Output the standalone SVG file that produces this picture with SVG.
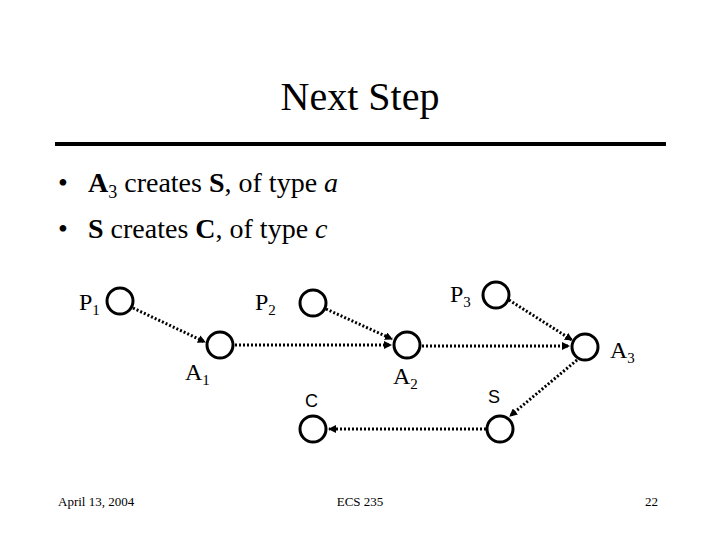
<svg xmlns="http://www.w3.org/2000/svg" width="720" height="540" viewBox="0 0 720 540">
<style>
.n{fill:none;stroke:#000;stroke-width:3}
.c{stroke:#000;stroke-width:3;stroke-dasharray:2 2;fill:none;marker-end:url(#a)}
.t{font-family:"Liberation Serif",serif;fill:#000}
.s{font-family:"Liberation Sans",sans-serif;fill:#000}
</style>
<defs><marker id="a" markerWidth="8" markerHeight="8" refX="7" refY="4" orient="auto" markerUnits="userSpaceOnUse"><path d="M0,0L8,4L0,8z"/></marker></defs>
<rect width="720" height="540" fill="#fff"/>
<text class="t" x="360" y="110" font-size="40" text-anchor="middle">Next Step</text>
<line x1="55" y1="144" x2="666" y2="144" stroke="#000" stroke-width="4"/>
<text class="t" x="58" y="192" font-size="28">•</text>
<text class="t" x="88" y="192" font-size="28"><tspan font-weight="bold">A</tspan><tspan font-size="18" dy="6">3</tspan><tspan dy="-6"> creates </tspan><tspan font-weight="bold">S</tspan>, of type <tspan font-style="italic">a</tspan></text>
<text class="t" x="58" y="238" font-size="28">•</text>
<text class="t" x="88" y="238" font-size="28"><tspan font-weight="bold">S</tspan> creates <tspan font-weight="bold">C</tspan>, of type <tspan font-style="italic">c</tspan></text>
<g id="connectors">
<line class="c" x1="133" y1="308" x2="205" y2="342"/>
<line class="c" x1="235" y1="345" x2="391" y2="345"/>
<line class="c" x1="326" y1="309" x2="392" y2="339"/>
<line class="c" x1="422" y1="346" x2="569" y2="346"/>
<line class="c" x1="509" y1="300" x2="572" y2="340"/>
<line class="c" x1="577" y1="360" x2="510" y2="416"/>
<line class="c" x1="486" y1="429" x2="329" y2="429"/>
</g>
<g id="P1"><circle class="n" cx="120" cy="301" r="13"/><text class="t" x="79" y="310" font-size="24">P<tspan font-size="15" dy="5">1</tspan></text></g>
<g id="A1"><circle class="n" cx="220" cy="345" r="13"/><text class="t" x="185" y="380" font-size="24">A<tspan font-size="15" dy="5">1</tspan></text></g>
<g id="P2"><circle class="n" cx="313" cy="303" r="13"/><text class="t" x="255" y="310" font-size="24">P<tspan font-size="15" dy="5">2</tspan></text></g>
<g id="A2"><circle class="n" cx="407" cy="345" r="13"/><text class="t" x="393" y="384" font-size="24">A<tspan font-size="15" dy="5">2</tspan></text></g>
<g id="P3"><circle class="n" cx="496" cy="295" r="13"/><text class="t" x="450" y="302" font-size="24">P<tspan font-size="15" dy="5">3</tspan></text></g>
<g id="A3"><circle class="n" cx="585" cy="347" r="13"/><text class="t" x="610" y="358" font-size="24">A<tspan font-size="15" dy="5">3</tspan></text></g>
<g id="S"><circle class="n" cx="500" cy="429" r="13"/><text class="s" x="488" y="403" font-size="18">S</text></g>
<g id="C"><circle class="n" cx="313" cy="429" r="13"/><text class="s" x="305" y="407" font-size="18">C</text></g>
<text class="t" x="58" y="506" font-size="13">April 13, 2004</text>
<text class="t" x="360" y="506" font-size="13" text-anchor="middle">ECS 235</text>
<text class="t" x="658" y="506" font-size="13" text-anchor="end">22</text>
</svg>
